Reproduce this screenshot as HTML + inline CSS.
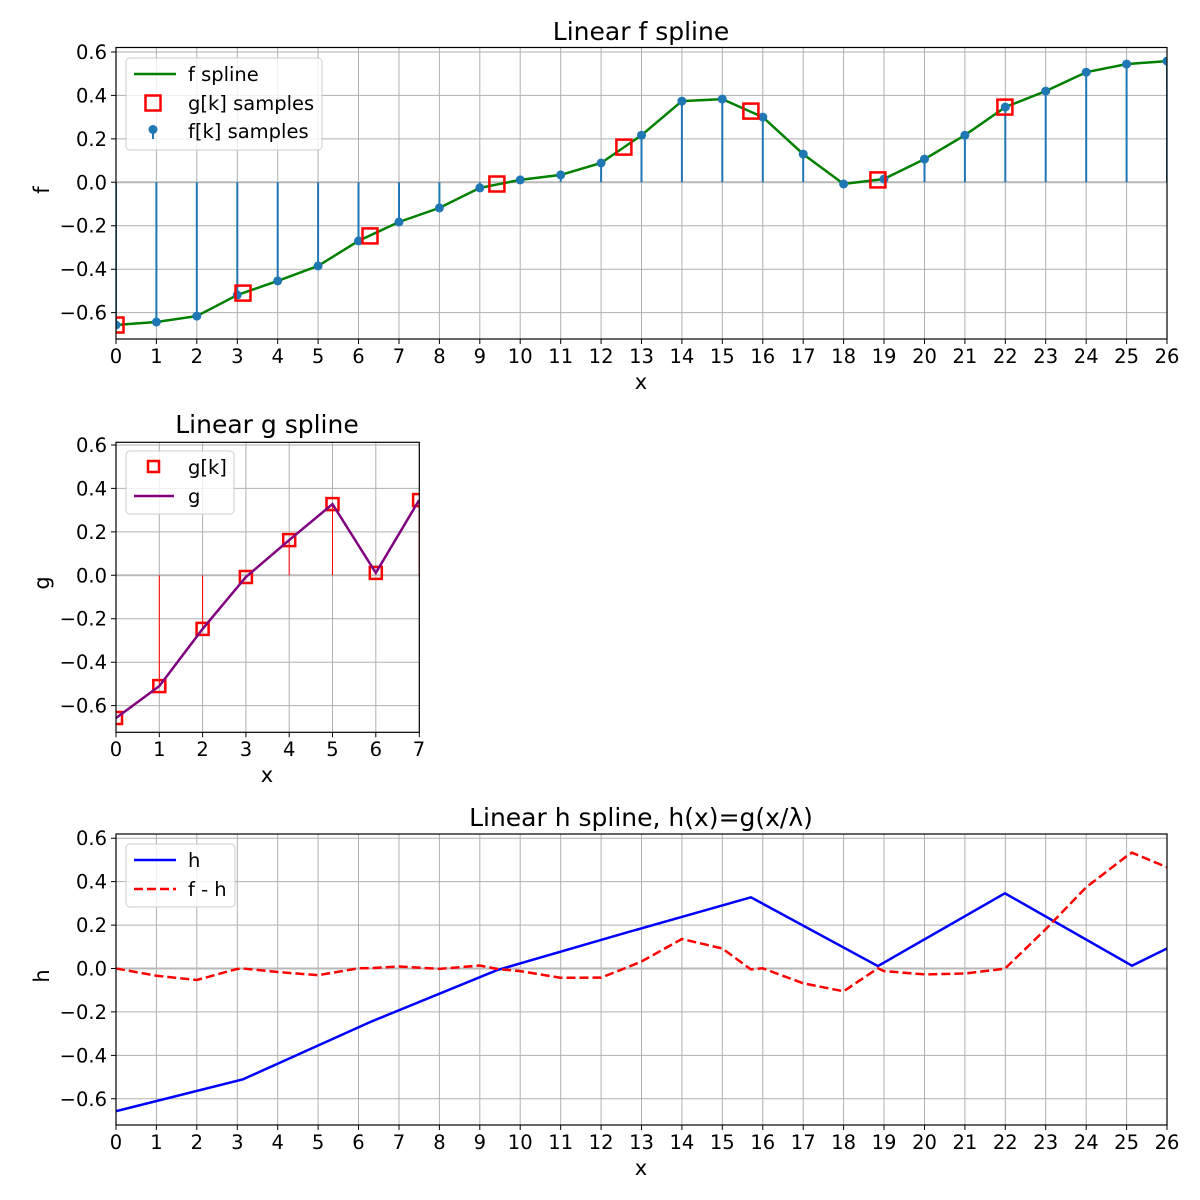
<!DOCTYPE html>
<html><head><meta charset="utf-8"><style>
body{margin:0;background:#fff}
svg{display:block;font-family:"DejaVu Sans","Liberation Sans",sans-serif}
.t{font-size:19.5px;fill:#000}
.ti{font-size:25px;fill:#000}
.al{font-size:21px;fill:#000}
</style></head><body>
<svg width="1200" height="1200" viewBox="0 0 1200 1200" xmlns="http://www.w3.org/2000/svg">
<rect width="1200" height="1200" fill="#fff"/>
<defs>
<clipPath id="c1"><rect x="116" y="47.5" width="1051" height="291.5"/></clipPath>
<clipPath id="c2"><rect x="116" y="442.3" width="303.3" height="290"/></clipPath>
<clipPath id="c3"><rect x="116" y="834" width="1051" height="291"/></clipPath>
</defs>
<!-- grids -->
<path fill="none" stroke="#b0b0b0" stroke-width="1" d="
M116 47.5V339 M156.4 47.5V339 M196.8 47.5V339 M237.3 47.5V339 M277.7 47.5V339 M318.1 47.5V339 M358.5 47.5V339 M399 47.5V339 M439.4 47.5V339 M479.8 47.5V339 M520.2 47.5V339 M560.7 47.5V339 M601.1 47.5V339 M641.5 47.5V339 M681.9 47.5V339 M722.3 47.5V339 M762.8 47.5V339 M803.2 47.5V339 M843.6 47.5V339 M884 47.5V339 M924.5 47.5V339 M964.9 47.5V339 M1005.3 47.5V339 M1045.7 47.5V339 M1086.2 47.5V339 M1126.6 47.5V339
M116 52H1167 M116 95.4H1167 M116 138.9H1167 M116 225.7H1167 M116 269.2H1167 M116 312.6H1167
M159.3 442.3V732.3 M202.6 442.3V732.3 M245.9 442.3V732.3 M289.2 442.3V732.3 M332.5 442.3V732.3 M375.8 442.3V732.3
M116 445H419.3 M116 488.4H419.3 M116 531.9H419.3 M116 618.7H419.3 M116 662.2H419.3 M116 705.6H419.3
M156.4 834V1125 M196.8 834V1125 M237.3 834V1125 M277.7 834V1125 M318.1 834V1125 M358.5 834V1125 M399 834V1125 M439.4 834V1125 M479.8 834V1125 M520.2 834V1125 M560.7 834V1125 M601.1 834V1125 M641.5 834V1125 M681.9 834V1125 M722.3 834V1125 M762.8 834V1125 M803.2 834V1125 M843.6 834V1125 M884 834V1125 M924.5 834V1125 M964.9 834V1125 M1005.3 834V1125 M1045.7 834V1125 M1086.2 834V1125 M1126.6 834V1125
M116 838.2H1167 M116 881.6H1167 M116 925.1H1167 M116 1011.9H1167 M116 1055.4H1167 M116 1098.8H1167"/>
<!-- ticks -->
<path fill="none" stroke="#000" stroke-width="1" d="
M116 339v5 M156.4 339v5 M196.8 339v5 M237.3 339v5 M277.7 339v5 M318.1 339v5 M358.5 339v5 M399 339v5 M439.4 339v5 M479.8 339v5 M520.2 339v5 M560.7 339v5 M601.1 339v5 M641.5 339v5 M681.9 339v5 M722.3 339v5 M762.8 339v5 M803.2 339v5 M843.6 339v5 M884 339v5 M924.5 339v5 M964.9 339v5 M1005.3 339v5 M1045.7 339v5 M1086.2 339v5 M1126.6 339v5 M1167 339v5
M111 52h5 M111 95.4h5 M111 138.9h5 M111 182.3h5 M111 225.7h5 M111 269.2h5 M111 312.6h5
M116 732.3v5 M159.3 732.3v5 M202.6 732.3v5 M245.9 732.3v5 M289.2 732.3v5 M332.5 732.3v5 M375.8 732.3v5 M419.3 732.3v5
M111 445h5 M111 488.4h5 M111 531.9h5 M111 575.3h5 M111 618.7h5 M111 662.2h5 M111 705.6h5
M116 1125v5 M156.4 1125v5 M196.8 1125v5 M237.3 1125v5 M277.7 1125v5 M318.1 1125v5 M358.5 1125v5 M399 1125v5 M439.4 1125v5 M479.8 1125v5 M520.2 1125v5 M560.7 1125v5 M601.1 1125v5 M641.5 1125v5 M681.9 1125v5 M722.3 1125v5 M762.8 1125v5 M803.2 1125v5 M843.6 1125v5 M884 1125v5 M924.5 1125v5 M964.9 1125v5 M1005.3 1125v5 M1045.7 1125v5 M1086.2 1125v5 M1126.6 1125v5 M1167 1125v5
M111 838.2h5 M111 881.6h5 M111 925.1h5 M111 968.5h5 M111 1011.9h5 M111 1055.4h5 M111 1098.8h5"/>

<!-- TOP plot data -->
<g clip-path="url(#c1)">
<line x1="116" y1="182.3" x2="1167" y2="182.3" stroke="#b8b8b8" stroke-width="2"/>
<path fill="none" stroke="#1f77b4" stroke-width="2" d="M116 182.3V325 M156.4 182.3V322 M196.8 182.3V316.1 M237.3 182.3V295 M277.7 182.3V280.9 M318.1 182.3V265.9 M358.5 182.3V240.9 M399 182.3V222 M439.4 182.3V207.9 M479.8 182.3V187.9 M520.2 182.3V179.9 M560.7 182.3V174.9 M601.1 182.3V163 M641.5 182.3V135.2 M681.9 182.3V101.1 M722.3 182.3V99.1 M762.8 182.3V117.1 M803.2 182.3V154.1 M843.6 182.3V184 M884 182.3V179 M924.5 182.3V159.1 M964.9 182.3V135.2 M1005.3 182.3V107.1 M1045.7 182.3V91.1 M1086.2 182.3V72.2 M1126.6 182.3V64.1 M1167 182.3V61.1"/>
<polyline fill="none" stroke="green" stroke-width="2.5" points="116,325 156.4,322 196.8,316.1 237.3,295 277.7,280.9 318.1,265.9 358.5,240.9 399,222 439.4,207.9 479.8,187.9 520.2,179.9 560.7,174.9 601.1,163 641.5,135.2 681.9,101.1 722.3,99.1 762.8,117.1 803.2,154.1 843.6,184 884,179 924.5,159.1 964.9,135.2 1005.3,107.1 1045.7,91.1 1086.2,72.2 1126.6,64.1 1167,61.1"/>
<g fill="#1f77b4">
<circle cx="116" cy="325" r="4.5"/><circle cx="156.4" cy="322" r="4.5"/><circle cx="196.8" cy="316.1" r="4.5"/><circle cx="237.3" cy="295" r="4.5"/><circle cx="277.7" cy="280.9" r="4.5"/><circle cx="318.1" cy="265.9" r="4.5"/><circle cx="358.5" cy="240.9" r="4.5"/><circle cx="399" cy="222" r="4.5"/><circle cx="439.4" cy="207.9" r="4.5"/><circle cx="479.8" cy="187.9" r="4.5"/><circle cx="520.2" cy="179.9" r="4.5"/><circle cx="560.7" cy="174.9" r="4.5"/><circle cx="601.1" cy="163" r="4.5"/><circle cx="641.5" cy="135.2" r="4.5"/><circle cx="681.9" cy="101.1" r="4.5"/><circle cx="722.3" cy="99.1" r="4.5"/><circle cx="762.8" cy="117.1" r="4.5"/><circle cx="803.2" cy="154.1" r="4.5"/><circle cx="843.6" cy="184" r="4.5"/><circle cx="884" cy="179" r="4.5"/><circle cx="924.5" cy="159.1" r="4.5"/><circle cx="964.9" cy="135.2" r="4.5"/><circle cx="1005.3" cy="107.1" r="4.5"/><circle cx="1045.7" cy="91.1" r="4.5"/><circle cx="1086.2" cy="72.2" r="4.5"/><circle cx="1126.6" cy="64.1" r="4.5"/><circle cx="1167" cy="61.1" r="4.5"/>
</g>
<g fill="none" stroke="red" stroke-width="2.5">
<rect x="108.5" y="317.5" width="15" height="15"/><rect x="235.5" y="285.6" width="15" height="15"/><rect x="362.5" y="228.4" width="15" height="15"/><rect x="489.4" y="176.5" width="15" height="15"/><rect x="616.4" y="139.6" width="15" height="15"/><rect x="743.4" y="103.6" width="15" height="15"/><rect x="870.4" y="172.4" width="15" height="15"/><rect x="997.4" y="99.6" width="15" height="15"/>
</g>
</g>
<rect x="116" y="47.5" width="1051" height="291.5" fill="none" stroke="#000" stroke-width="1.2"/>

<!-- MIDDLE plot -->
<g clip-path="url(#c2)">
<line x1="116" y1="575.3" x2="419.3" y2="575.3" stroke="#b8b8b8" stroke-width="2"/>
<path fill="none" stroke="red" stroke-width="1" d="M116 575.3V718 M159.3 575.3V686.1 M202.6 575.3V628.9 M245.9 575.3V577 M289.2 575.3V540.1 M332.5 575.3V504.1 M375.8 575.3V572.9 M419.1 575.3V500.1"/>
<g fill="none" stroke="red" stroke-width="2.5">
<rect x="110" y="712" width="12" height="12"/><rect x="153.3" y="680.1" width="12" height="12"/><rect x="196.6" y="622.9" width="12" height="12"/><rect x="239.9" y="571" width="12" height="12"/><rect x="283.2" y="534.1" width="12" height="12"/><rect x="326.5" y="498.1" width="12" height="12"/><rect x="369.8" y="566.9" width="12" height="12"/><rect x="413.1" y="494.1" width="12" height="12"/>
</g>
<polyline fill="none" stroke="purple" stroke-width="2.5" points="116,718 159.3,686.1 202.6,628.9 245.9,577 289.2,540.1 332.5,504.1 375.8,572.9 419.1,500.1"/>
</g>
<rect x="116" y="442.3" width="303.3" height="290" fill="none" stroke="#000" stroke-width="1.2"/>

<!-- BOTTOM plot -->
<g clip-path="url(#c3)">
<line x1="116" y1="968.5" x2="1167" y2="968.5" stroke="#b8b8b8" stroke-width="2"/>
<polyline fill="none" stroke="blue" stroke-width="2.5" points="116,1111.2 243,1079.3 370,1022.1 496.9,970.2 623.9,933.3 750.9,897.3 877.9,966.1 1004.9,893.3 1132,965.7 1167,948.5"/>
<polyline fill="none" stroke="red" stroke-width="2.5" stroke-dasharray="9,4" points="116,968.5 156.4,975.7 196.8,980 237.3,968.9 243,968.5 277.7,972 318.1,975.2 358.5,968.3 370,968.1 399,966.5 439.4,968.9 479.8,965.5 496.9,968.9 520.2,971.1 560.7,977.8 601.1,977.6 623.9,968.7 641.5,961.5 681.9,939 722.3,948.5 750.9,969.4 762.8,968.3 803.2,983.3 843.6,991.3 877.9,968.3 884,971.1 924.5,974.4 964.9,973.5 1004.9,968.7 1005.3,968.3 1045.7,929.2 1086.2,887.3 1126.6,856.2 1132,852.7 1167,867.3"/>
</g>
<rect x="116" y="834" width="1051" height="291" fill="none" stroke="#000" stroke-width="1.2"/>

<!-- titles -->
<text class="ti" x="641" y="40" text-anchor="middle">Linear f spline</text>
<text class="ti" x="267" y="433" text-anchor="middle">Linear g spline</text>
<text class="ti" x="641" y="826" text-anchor="middle">Linear h spline, h(x)=g(x/λ)</text>
<text class="al" x="641" y="389" text-anchor="middle">x</text>
<text class="al" x="267" y="782" text-anchor="middle">x</text>
<text class="al" x="641" y="1175" text-anchor="middle">x</text>
<text class="al" transform="translate(49,190) rotate(-90)" text-anchor="middle">f</text>
<text class="al" transform="translate(49,583) rotate(-90)" text-anchor="middle">g</text>
<text class="al" transform="translate(49,976) rotate(-90)" text-anchor="middle">h</text>
<g class="t" text-anchor="end">
<text x="107" y="59">0.6</text><text x="107" y="102.4">0.4</text><text x="107" y="145.9">0.2</text><text x="107" y="189.3">0.0</text><text x="107" y="232.7">−0.2</text><text x="107" y="276.2">−0.4</text><text x="107" y="319.6">−0.6</text>
<text x="107" y="452">0.6</text><text x="107" y="495.4">0.4</text><text x="107" y="538.9">0.2</text><text x="107" y="582.3">0.0</text><text x="107" y="625.7">−0.2</text><text x="107" y="669.2">−0.4</text><text x="107" y="712.6">−0.6</text>
<text x="107" y="845.2">0.6</text><text x="107" y="888.6">0.4</text><text x="107" y="932.1">0.2</text><text x="107" y="975.5">0.0</text><text x="107" y="1018.9">−0.2</text><text x="107" y="1062.4">−0.4</text><text x="107" y="1105.8">−0.6</text>
</g>
<g class="t" text-anchor="middle">
<text x="116" y="363">0</text><text x="156.4" y="363">1</text><text x="196.8" y="363">2</text><text x="237.3" y="363">3</text><text x="277.7" y="363">4</text><text x="318.1" y="363">5</text><text x="358.5" y="363">6</text><text x="399" y="363">7</text><text x="439.4" y="363">8</text><text x="479.8" y="363">9</text><text x="520.2" y="363">10</text><text x="560.7" y="363">11</text><text x="601.1" y="363">12</text><text x="641.5" y="363">13</text><text x="681.9" y="363">14</text><text x="722.3" y="363">15</text><text x="762.8" y="363">16</text><text x="803.2" y="363">17</text><text x="843.6" y="363">18</text><text x="884" y="363">19</text><text x="924.5" y="363">20</text><text x="964.9" y="363">21</text><text x="1005.3" y="363">22</text><text x="1045.7" y="363">23</text><text x="1086.2" y="363">24</text><text x="1126.6" y="363">25</text><text x="1167" y="363">26</text>
<text x="116" y="756">0</text><text x="159.3" y="756">1</text><text x="202.6" y="756">2</text><text x="245.9" y="756">3</text><text x="289.2" y="756">4</text><text x="332.5" y="756">5</text><text x="375.8" y="756">6</text><text x="419" y="756">7</text>
<text x="116" y="1149">0</text><text x="156.4" y="1149">1</text><text x="196.8" y="1149">2</text><text x="237.3" y="1149">3</text><text x="277.7" y="1149">4</text><text x="318.1" y="1149">5</text><text x="358.5" y="1149">6</text><text x="399" y="1149">7</text><text x="439.4" y="1149">8</text><text x="479.8" y="1149">9</text><text x="520.2" y="1149">10</text><text x="560.7" y="1149">11</text><text x="601.1" y="1149">12</text><text x="641.5" y="1149">13</text><text x="681.9" y="1149">14</text><text x="722.3" y="1149">15</text><text x="762.8" y="1149">16</text><text x="803.2" y="1149">17</text><text x="843.6" y="1149">18</text><text x="884" y="1149">19</text><text x="924.5" y="1149">20</text><text x="964.9" y="1149">21</text><text x="1005.3" y="1149">22</text><text x="1045.7" y="1149">23</text><text x="1086.2" y="1149">24</text><text x="1126.6" y="1149">25</text><text x="1167" y="1149">26</text>
</g>
<!-- legends -->
<rect x="126" y="58" width="196" height="92" rx="4" fill="#fff" fill-opacity="0.8" stroke="#ccc"/>
<line x1="134" y1="74" x2="176" y2="74" stroke="green" stroke-width="2.5"/>
<rect x="145.5" y="95.5" width="15" height="15" fill="none" stroke="red" stroke-width="2.5"/>
<line x1="153" y1="131" x2="153" y2="139" stroke="#1f77b4" stroke-width="2"/>
<circle cx="153" cy="129.5" r="4.5" fill="#1f77b4"/>
<text class="t" x="188" y="81">f spline</text>
<text class="t" x="188" y="110">g[k] samples</text>
<text class="t" x="188" y="138">f[k] samples</text>
<rect x="126" y="451" width="108" height="63" rx="4" fill="#fff" fill-opacity="0.8" stroke="#ccc"/>
<rect x="148" y="461" width="11" height="11" fill="none" stroke="red" stroke-width="2.5"/>
<line x1="134" y1="496" x2="174" y2="496" stroke="purple" stroke-width="2.5"/>
<text class="t" x="188" y="474">g[k]</text>
<text class="t" x="188" y="503">g</text>
<rect x="126" y="844" width="109" height="63" rx="4" fill="#fff" fill-opacity="0.8" stroke="#ccc"/>
<line x1="134" y1="860" x2="176" y2="860" stroke="blue" stroke-width="2.5"/>
<line x1="134" y1="889" x2="176" y2="889" stroke="red" stroke-width="2.5" stroke-dasharray="9,4"/>
<text class="t" x="188" y="867">h</text>
<text class="t" x="188" y="896">f - h</text>
</svg>
</body></html>
